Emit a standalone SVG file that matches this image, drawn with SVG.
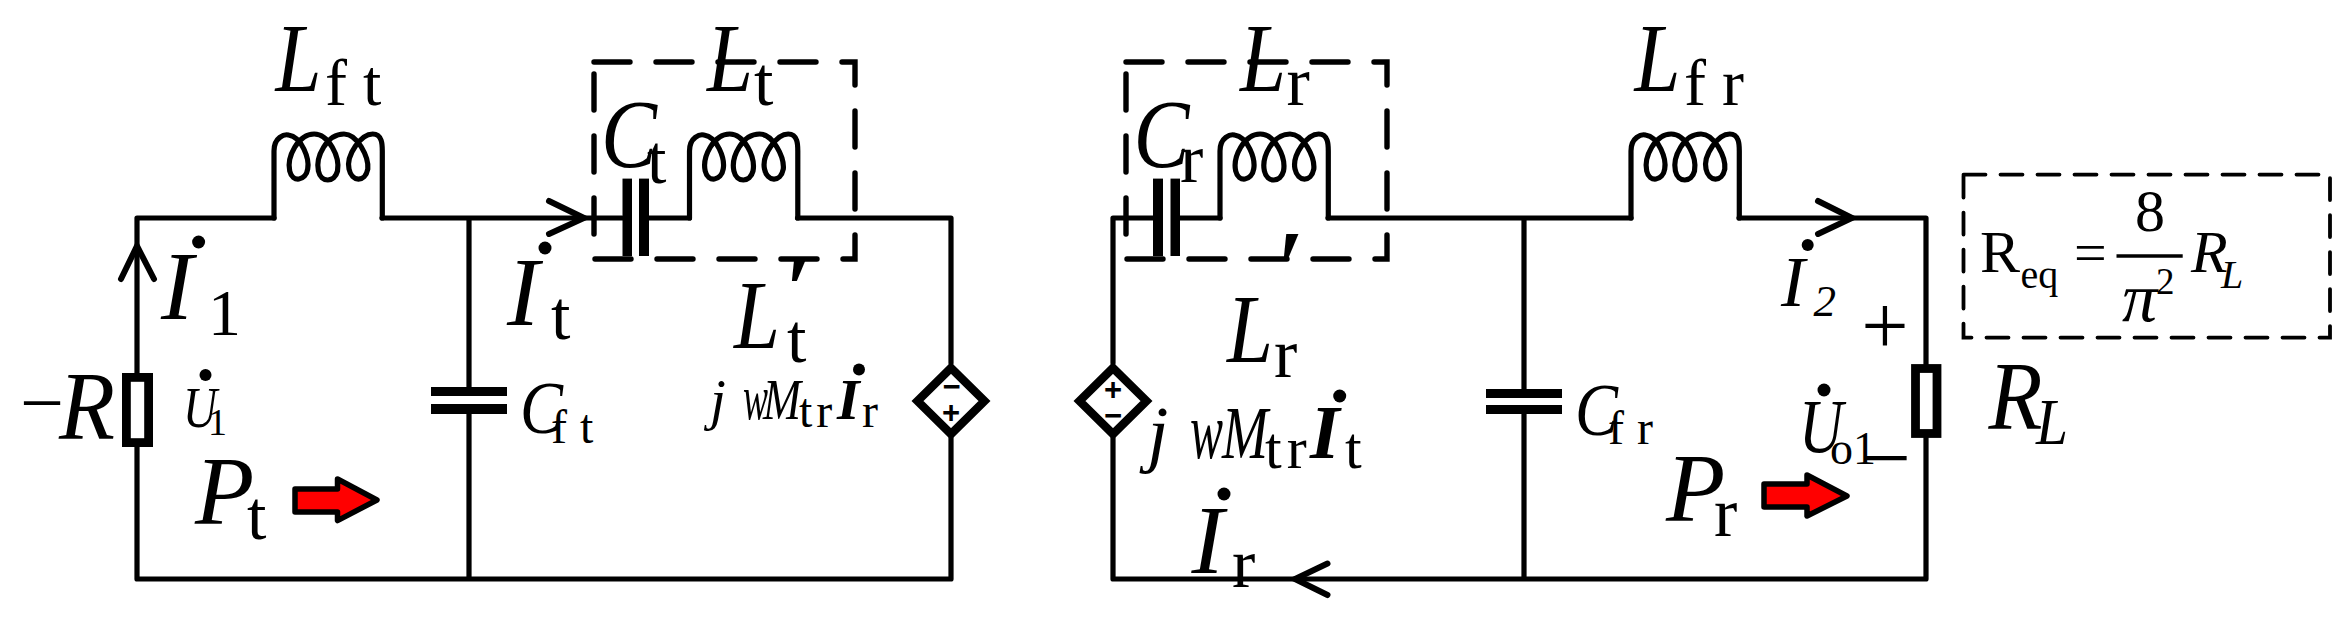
<svg xmlns="http://www.w3.org/2000/svg" xmlns:xlink="http://www.w3.org/1999/xlink" width="2352" height="622" viewBox="0 0 2352 622">
<style>
text{font-family:"Liberation Serif","Times New Roman",serif;fill:#000}
.i{font-style:italic}
.L{font-size:97px}
.s{font-size:70px}
.sw{font-size:66px;letter-spacing:16px}
.m{font-size:74px}
.ms{font-size:48px;letter-spacing:13px}
.bi{font-style:italic;font-weight:bold}
.sign{font-family:"Liberation Sans",sans-serif;font-weight:bold;font-size:31px;text-anchor:middle}
.w{fill:none;stroke:#000;stroke-width:5.2;stroke-linecap:round;stroke-linejoin:round}
.ah{fill:none;stroke:#000;stroke-width:6;stroke-linecap:round;stroke-linejoin:miter}
.plate{fill:#000}
.dash{fill:none;stroke:#000;stroke-width:5.4;stroke-dasharray:36 26;stroke-linecap:round}
.res{fill:#fff;stroke:#000;stroke-width:8.8}
.src{fill:#fff;stroke:#000;stroke-width:8.4;stroke-linejoin:miter}
.pw{fill:#f00;stroke:#000;stroke-width:5.5;stroke-linejoin:round}
</style>
<defs>
<path id="coil" class="w" d="M0 0V-67C0-81 10.700-84 14.500-83C28-81 35.600-59 33.700-49C31.800-37 18.400-35 15.700-47C12.600-61 24-84 40.200-84C54.700-84 66.200-61 63.500-47C60.500-35 47-35 44.400-47C41.300-61 52.800-84 70-84C83.400-84 94.900-61 93.800-49C91-35 77.700-36 75-49C72-63 87-84 98.700-84C108.300-84 108.300-73 108.300-67V0"/>
</defs>
<g id="connectors">
<path class="w" d="M137 373V218H274M382 218H622M469 218V387M469 414V579M137 447V579H951V438M649 218H689.500M797.500 218H951V363"/>
<path class="w" d="M1153 218H1113V363M1113 438V579H1926V438M1926 364V218H1739M1180 218H1220M1328 218H1631M1524 218V389M1524 414V579"/>
<polyline class="ah" points="121,279 137,246 154,279"/>
<polyline class="ah" points="549,201 584,218 549,234"/>
<polyline class="ah" points="1818,201 1852,218 1818,234"/>
<polyline class="ah" points="1327.500,563.500 1295,579 1327.500,595"/>
</g>
<g id="resistor-neg">
<rect class="res" x="126.400" y="377.400" width="22.200" height="65.200"/>
<text x="20" y="429" font-size="78">−</text>
<text class="i L" x="59" y="438.500" textLength="56" lengthAdjust="spacingAndGlyphs">R</text>
</g>
<g id="voltage-u1">
<circle cx="205.500" cy="375" r="6"/>
<text class="i" x="183" y="426.600" font-size="57" textLength="34" lengthAdjust="spacingAndGlyphs">U</text>
<text x="208" y="434.500" font-size="38">1</text>
</g>
<g id="current-i1">
<circle cx="198.600" cy="242" r="6.500"/>
<text class="i L" x="161" y="319.400">I</text>
<text x="208" y="334.500" font-size="66">1</text>
</g>
<g id="inductor-Lft">
<use xlink:href="#coil" href="#coil" x="274" y="218"/>
<text class="i L" x="275.500" y="90.500" textLength="46" lengthAdjust="spacingAndGlyphs">L</text>
<text class="sw" x="325" y="105">ft</text>
</g>
<g id="power-Pt">
<text class="i L" x="195" y="524">P</text>
<text class="s" x="247" y="539">t</text>
<path class="pw" d="M295 489H337.500V479L377 500L337.500 520.600V512H295Z"/>
</g>
<g id="capacitor-Cft">
<rect class="plate" x="431" y="387" width="76" height="9"/>
<rect class="plate" x="431" y="404" width="76" height="10"/>
<text class="i m" x="520" y="433" textLength="43" lengthAdjust="spacingAndGlyphs">C</text>
<text class="ms" x="551" y="443">ft</text>
</g>
<g id="current-It">
<circle cx="545" cy="248" r="6.500"/>
<text class="i L" x="507" y="325.400">I</text>
<text class="s" x="551" y="339.300">t</text>
</g>
<g id="box-Lt">
<rect class="dash" x="594" y="62" width="261" height="197"/>
</g>
<g id="capacitor-Ct">
<rect class="plate" x="622.500" y="178.600" width="9.500" height="77.400"/>
<rect class="plate" x="639" y="178.600" width="10" height="77.400"/>
<text class="i L" x="601" y="166.700" textLength="56" lengthAdjust="spacingAndGlyphs">C</text>
<text class="s" x="647" y="182.500">t</text>
</g>
<g id="inductor-Lt">
<use xlink:href="#coil" href="#coil" x="689.500" y="218"/>
<text class="i L" x="707" y="90.500" textLength="46" lengthAdjust="spacingAndGlyphs">L</text>
<text class="s" x="754" y="105">t</text>
</g>
<g id="label-Ltp">
<text class="i L" x="734" y="348" textLength="46" lengthAdjust="spacingAndGlyphs">L</text>
<text class="i L" x="784" y="322" font-weight="bold">′</text>
<text class="s" x="787" y="362">t</text>
</g>
<g id="source-left">
<polygon class="src" points="951,368 984.500,401 951,434 917.500,401"/>
<text class="sign" x="951.500" y="397">−</text>
<text class="sign" x="951" y="423">+</text>
<text class="i" x="710" y="418.600" font-size="57">j</text>
<text class="i" x="743" y="418.600" font-size="63" textLength="25" lengthAdjust="spacingAndGlyphs">w</text>
<text class="i" x="763" y="418.600" font-size="57" textLength="38" lengthAdjust="spacingAndGlyphs">M</text>
<text x="799" y="426.600" font-size="48" letter-spacing="4">tr</text>
<text class="bi" x="837" y="418.600" font-size="58">I</text>
<circle cx="859" cy="369.400" r="6"/>
<text x="862" y="426.600" font-size="48">r</text>
</g>
<g id="source-right">
<polygon class="src" points="1113,368 1146.500,401 1113,434 1079.500,401"/>
<text class="sign" x="1113" y="400">+</text>
<text class="sign" x="1113" y="426">−</text>
<text class="i" x="1147.600" y="458" font-size="75">j</text>
<text class="i" x="1190" y="458" font-size="80" textLength="33" lengthAdjust="spacingAndGlyphs">w</text>
<text class="i" x="1222" y="458" font-size="75" textLength="46" lengthAdjust="spacingAndGlyphs">M</text>
<text x="1265" y="468" font-size="60" letter-spacing="5">tr</text>
<text class="bi" x="1310" y="458" font-size="76">I</text>
<circle cx="1339.700" cy="396" r="6.500"/>
<text x="1345" y="468" font-size="60">t</text>
</g>
<g id="box-Lr">
<rect class="dash" x="1126" y="62" width="261" height="197"/>
</g>
<g id="capacitor-Cr">
<rect class="plate" x="1153" y="178.600" width="10" height="77.400"/>
<rect class="plate" x="1170.500" y="178.600" width="9.500" height="77.400"/>
<text class="i L" x="1133.400" y="166.700" textLength="56" lengthAdjust="spacingAndGlyphs">C</text>
<text class="s" x="1180" y="182">r</text>
</g>
<g id="inductor-Lr">
<use xlink:href="#coil" href="#coil" x="1220" y="218"/>
<text class="i L" x="1240" y="90.500" textLength="46" lengthAdjust="spacingAndGlyphs">L</text>
<text class="s" x="1286.500" y="105">r</text>
</g>
<g id="label-Lrp">
<text class="i L" x="1276" y="298" font-weight="bold">′</text>
<text class="i L" x="1227" y="362" textLength="46" lengthAdjust="spacingAndGlyphs">L</text>
<text class="s" x="1274" y="377">r</text>
</g>
<g id="current-Ir">
<circle cx="1224" cy="494" r="6.500"/>
<text class="i L" x="1191.600" y="573.400">I</text>
<text class="s" x="1232" y="587">r</text>
</g>
<g id="capacitor-Cfr">
<rect class="plate" x="1486" y="389" width="76" height="9"/>
<rect class="plate" x="1486" y="405" width="76" height="9"/>
<text class="i m" x="1575" y="434.500" textLength="43" lengthAdjust="spacingAndGlyphs">C</text>
<text class="ms" x="1608" y="444">fr</text>
</g>
<g id="inductor-Lfr">
<use xlink:href="#coil" href="#coil" x="1631" y="218"/>
<text class="i L" x="1634.500" y="90.500" textLength="46" lengthAdjust="spacingAndGlyphs">L</text>
<text class="sw" x="1684" y="105">fr</text>
</g>
<g id="power-Pr">
<text class="i L" x="1666" y="520.600">P</text>
<text class="s" x="1714" y="535.700">r</text>
<path class="pw" d="M1764 484H1807V475L1847 496L1807 516V507H1764Z"/>
</g>
<g id="current-I2">
<circle cx="1807.700" cy="245" r="6"/>
<text class="i" x="1781" y="305.600" font-size="72">I</text>
<text class="i" x="1813.400" y="316" font-size="45">2</text>
</g>
<g id="voltage-Uo1">
<text x="1885" y="354" font-size="84" text-anchor="middle">+</text>
<circle cx="1824" cy="390" r="6.500"/>
<text class="i" x="1799" y="452" font-size="76" textLength="44" lengthAdjust="spacingAndGlyphs">U</text>
<text x="1830" y="463.500" font-size="46">o1</text>
<text x="1886" y="488" font-size="90" text-anchor="middle">−</text>
</g>
<g id="resistor-RL">
<rect class="res" x="1915.500" y="368.500" width="21.500" height="65"/>
<text class="i L" x="1988.500" y="429" textLength="54" lengthAdjust="spacingAndGlyphs">R</text>
<text class="i" x="2036" y="444.400" font-size="66" textLength="32" lengthAdjust="spacingAndGlyphs">L</text>
</g>
<g id="equation-Req">
<rect x="1963.500" y="174.600" width="366.500" height="163" fill="none" stroke="#000" stroke-width="3.800" stroke-dasharray="22 15" stroke-linecap="round"/>
<text x="1980" y="272" font-size="60">R</text>
<text x="2020.600" y="288" font-size="40">eq</text>
<text x="2074" y="272" font-size="58">=</text>
<line x1="2116.500" y1="256" x2="2182.700" y2="256" stroke="#000" stroke-width="3.500"/>
<text x="2135" y="231" font-size="60">8</text>
<text class="i" x="2122" y="321.400" font-size="70">π</text>
<text x="2156" y="293.600" font-size="37">2</text>
<text class="i" x="2191" y="272" font-size="60">R</text>
<text class="i" x="2221" y="288" font-size="40">L</text>
</g>
</svg>
